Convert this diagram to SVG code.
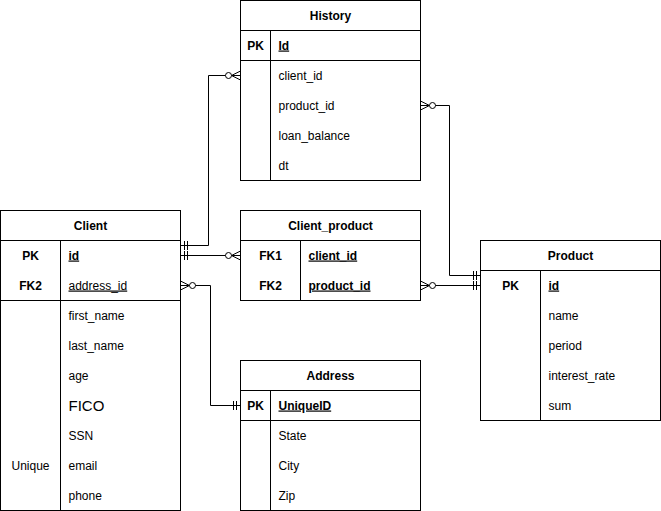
<svg xmlns="http://www.w3.org/2000/svg" width="661" height="511" viewBox="0 0 661 511">
<style>
.box{fill:#ffffff;stroke:#000000;stroke-width:1}
.ln{stroke:#000000;stroke-width:1;fill:none}
text{font-family:"Liberation Sans",Arial,Helvetica,sans-serif;font-size:12px;fill:#000000}
.t{font-weight:bold;text-anchor:middle}
.k{font-weight:bold;text-anchor:middle}
.u{text-decoration:underline}
.b{font-weight:bold}
.c{text-anchor:middle}
.edge{stroke:#000000;stroke-width:1;fill:none}
</style>
<defs>
<marker id="mandOne" markerUnits="userSpaceOnUse" orient="auto-start-reverse" viewBox="-20 -10 22 20" refX="0" refY="0" markerWidth="22" markerHeight="20">
<path d="M-4,-4.5V4.5M-7,-4.5V4.5" stroke="#000" stroke-width="1" fill="none"/>
</marker>
<marker id="zeroMany" markerUnits="userSpaceOnUse" orient="auto-start-reverse" viewBox="-20 -10 22 20" refX="0" refY="0" markerWidth="22" markerHeight="20">
<path d="M0,-4.5L-9,0L0,4.5" stroke="#000" stroke-width="1" fill="none"/>
<circle cx="-12" cy="0" r="3" fill="#fff" stroke="#000" stroke-width="1"/>
</marker>
</defs>
<rect width="661" height="511" fill="#ffffff"/>
<g transform="translate(0.5,0.5)">
<g id="connectors">
<path class="edge" d="M180,245H208V75H240" marker-start="url(#mandOne)" marker-end="url(#zeroMany)"/>
<path class="edge" d="M180,255H240" marker-start="url(#mandOne)" marker-end="url(#zeroMany)"/>
<path class="edge" d="M180,285H210V405H240" marker-start="url(#zeroMany)" marker-end="url(#mandOne)"/>
<path class="edge" d="M420,105H449V275H480" marker-start="url(#zeroMany)" marker-end="url(#mandOne)"/>
<path class="edge" d="M420,285H480" marker-start="url(#zeroMany)" marker-end="url(#mandOne)"/>
</g>
<g id="history">
<rect class="box" x="240" y="0" width="180" height="180"/>
<path class="ln" d="M240,30H420M240,60H420M270,30V180"/>
<text class="t" x="330" y="19">History</text>
<text class="k" x="255" y="49">PK</text>
<text class="b u" x="278" y="49">Id</text>
<text x="278" y="79">client_id</text>
<text x="278" y="109">product_id</text>
<text x="278" y="139">loan_balance</text>
<text x="278" y="169">dt</text>
</g>
<g id="client">
<rect class="box" x="0" y="210" width="180" height="300"/>
<path class="ln" d="M0,240H180M0,300H180M60,240V510"/>
<text class="t" x="90" y="229">Client</text>
<text class="k" x="30" y="259">PK</text>
<text class="b u" x="68" y="259">id</text>
<text class="k" x="30" y="289">FK2</text>
<text class="u" x="68" y="289">address_id</text>
<text x="68" y="319">first_name</text>
<text x="68" y="349">last_name</text>
<text x="68" y="379">age</text>
<text x="68" y="410" style="font-size:15px">FICO</text>
<text x="68" y="439">SSN</text>
<text class="c" x="30" y="469">Unique</text>
<text x="68" y="469">email</text>
<text x="68" y="499">phone</text>
</g>
<g id="client_product">
<rect class="box" x="240" y="210" width="180" height="90"/>
<path class="ln" d="M240,240H420M300,240V300"/>
<text class="t" x="330" y="229">Client_product</text>
<text class="k" x="270" y="259">FK1</text>
<text class="b u" x="308" y="259">client_id</text>
<text class="k" x="270" y="289">FK2</text>
<text class="b u" x="308" y="289">product_id</text>
</g>
<g id="product">
<rect class="box" x="480" y="240" width="180" height="180"/>
<path class="ln" d="M480,270H660M540,270V420"/>
<text class="t" x="570" y="259">Product</text>
<text class="k" x="510" y="289">PK</text>
<text class="b u" x="548" y="289">id</text>
<text x="548" y="319">name</text>
<text x="548" y="349">period</text>
<text x="548" y="379">interest_rate</text>
<text x="548" y="409">sum</text>
</g>
<g id="address">
<rect class="box" x="240" y="360" width="180" height="150"/>
<path class="ln" d="M240,390H420M240,420H420M270,390V510"/>
<text class="t" x="330" y="379">Address</text>
<text class="k" x="255" y="409">PK</text>
<text class="b u" x="278" y="409">UniqueID</text>
<text x="278" y="439">State</text>
<text x="278" y="469">City</text>
<text x="278" y="499">Zip</text>
</g>
</g>
</svg>
